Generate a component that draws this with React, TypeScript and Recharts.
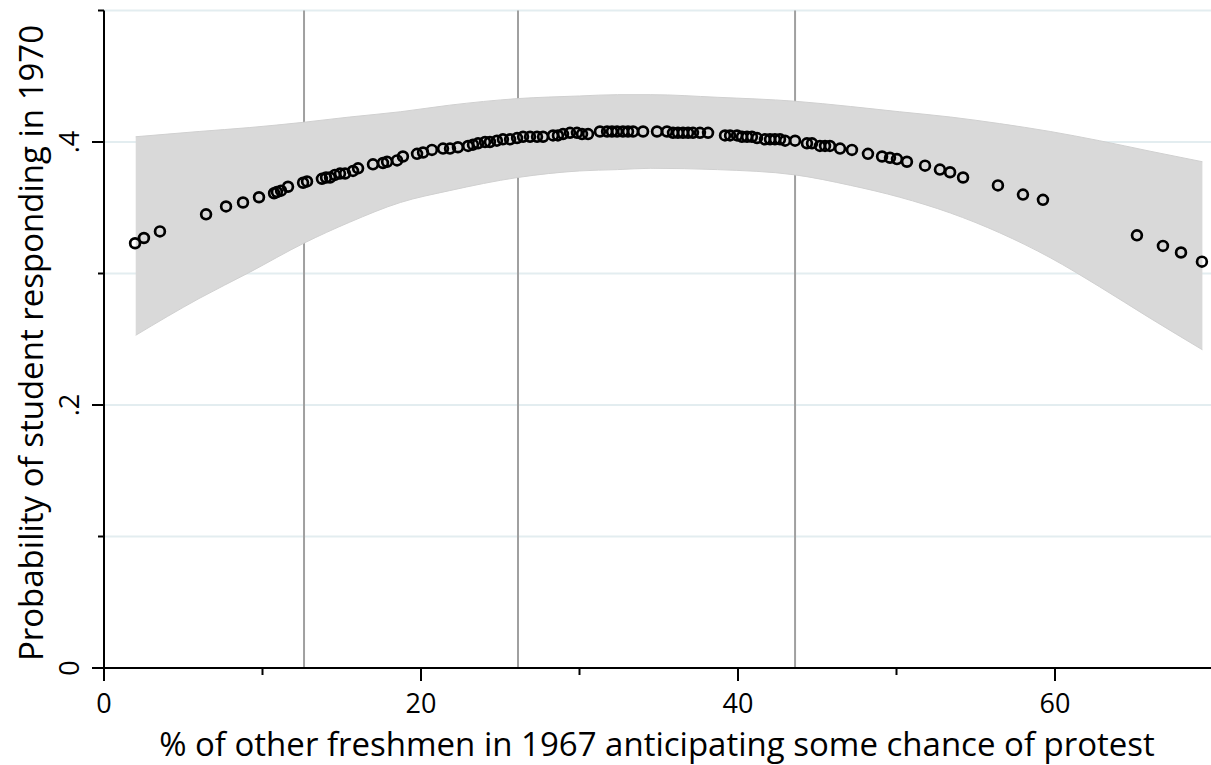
import React from 'react';
import { ComposedChart, Area, Scatter, XAxis, YAxis, CartesianGrid } from 'recharts';

// Confidence band
const bandX = [2.0, 6.0, 9.2, 12.6, 15.5, 18.7, 21.8, 26.1, 30.0, 32.4, 34.5, 38.7, 43.6, 47.1, 50.2, 53.4, 56.5, 59.7, 62.8, 66.0, 69.3];
const bandUpper = [0.404, 0.408, 0.411, 0.415, 0.419, 0.423, 0.428, 0.433, 0.435, 0.436, 0.436, 0.434, 0.431, 0.427, 0.423, 0.419, 0.414, 0.408, 0.401, 0.393, 0.385];
const bandLower = [0.253, 0.281, 0.301, 0.323, 0.339, 0.354, 0.363, 0.373, 0.378, 0.379, 0.380, 0.379, 0.375, 0.367, 0.358, 0.346, 0.331, 0.312, 0.290, 0.266, 0.242];

// Predicted probabilities (scatter)
const pointX = [1.96, 2.52, 3.53, 6.44, 7.70, 8.77, 9.78, 10.73, 10.91, 11.17, 11.61, 12.56, 12.81, 13.75, 14.01, 14.26, 14.57, 14.89, 15.21, 15.71, 16.03, 16.97, 17.60, 17.86, 18.49, 18.86, 19.75, 20.13, 20.69, 21.39, 21.83, 22.33, 22.97, 23.28, 23.60, 24.04, 24.35, 24.79, 25.17, 25.62, 26.06, 26.44, 26.88, 27.32, 27.70, 28.33, 28.64, 28.96, 29.40, 29.84, 30.16, 30.54, 31.29, 31.74, 32.05, 32.37, 32.74, 33.06, 33.38, 34.01, 34.89, 35.52, 35.90, 36.21, 36.53, 36.85, 37.16, 37.60, 38.11, 39.18, 39.50, 39.94, 40.25, 40.57, 40.88, 41.20, 41.70, 42.02, 42.33, 42.65, 42.97, 43.60, 44.35, 44.67, 45.17, 45.49, 45.80, 46.44, 47.19, 48.20, 49.09, 49.59, 50.03, 50.66, 51.80, 52.74, 53.38, 54.20, 56.40, 57.98, 59.24, 65.17, 66.81, 67.95, 69.27];
const pointY = [0.323, 0.327, 0.332, 0.345, 0.351, 0.354, 0.358, 0.361, 0.362, 0.363, 0.366, 0.369, 0.370, 0.372, 0.373, 0.373, 0.375, 0.376, 0.376, 0.378, 0.380, 0.383, 0.384, 0.385, 0.386, 0.389, 0.391, 0.392, 0.394, 0.395, 0.395, 0.396, 0.397, 0.398, 0.399, 0.400, 0.400, 0.401, 0.402, 0.402, 0.403, 0.404, 0.404, 0.404, 0.404, 0.405, 0.405, 0.406, 0.407, 0.407, 0.406, 0.406, 0.408, 0.408, 0.408, 0.408, 0.408, 0.408, 0.408, 0.408, 0.408, 0.408, 0.407, 0.407, 0.407, 0.407, 0.407, 0.407, 0.407, 0.405, 0.405, 0.405, 0.404, 0.404, 0.404, 0.403, 0.402, 0.402, 0.402, 0.402, 0.401, 0.401, 0.399, 0.399, 0.397, 0.397, 0.397, 0.395, 0.394, 0.391, 0.389, 0.388, 0.387, 0.385, 0.382, 0.379, 0.377, 0.373, 0.367, 0.360, 0.356, 0.329, 0.321, 0.316, 0.309];

// Vertical reference lines
const refLines = [12.62, 26.12, 43.6];

// Axis ticks
const xTicks = [0, 10, 20, 30, 40, 50, 60, 70];
const xLabeled = [0, 20, 40, 60];
const yTicks = [0, 0.1, 0.2, 0.3, 0.4, 0.5];
const yLabeled = [0, 0.2, 0.4];
const yLabelText = ['0', '.2', '.4'];

const FONT = '"Open Sans", sans-serif';

const bandData = bandX.map((x, i) => ({ x, lo: bandLower[i], hi: bandUpper[i] }));
const pointData = pointX.map((x, i) => ({ x, y: pointY[i] }));

const near = (a: number, b: number) => Math.abs(a - b) < 1e-6;

const YTick = (props: any) => {
  const { x, y, payload } = props;
  const v = payload.value;
  const idx = yLabeled.findIndex((t) => near(t, v));
  const major = idx >= 0;
  const tx = x - 25;
  return (
    <g>
      <line x1={x} x2={x - (major ? 12 : 6)} y1={y} y2={y} stroke="#000" strokeWidth={2} />
      {major && (
        <text x={tx} y={y} transform={`rotate(-90 ${tx} ${y})`} textAnchor="middle" fontSize={27} fontFamily={FONT} fill="#000">
          {yLabelText[idx]}
        </text>
      )}
    </g>
  );
};

const XTick = (props: any) => {
  const { x, y, payload } = props;
  const v = payload.value;
  const major = xLabeled.some((t) => near(t, v));
  return (
    <g>
      <line x1={x} x2={x} y1={y} y2={y + (major ? 13 : 7)} stroke="#000" strokeWidth={2} />
      {major && (
        <text x={x} y={y + 45} textAnchor="middle" fontSize={27} fontFamily={FONT} fill="#000">
          {String(v)}
        </text>
      )}
    </g>
  );
};

const PointShape = (props: any) => {
  const { cx, cy } = props;
  if (cx == null || cy == null) return null;
  return <circle cx={cx} cy={cy} r={4.9} fill="none" stroke="#000" strokeWidth={2.7} />;
};

const refCoords = (p: any) => {
  const xa = p && p.xAxis;
  if (xa && typeof xa.scale === 'function') return refLines.map((v) => xa.scale(v));
  const off = p.offset;
  return refLines.map((v) => off.left + (v / 70) * off.width);
};

export default function App() {
  return (
    <div style={{ position: 'absolute', left: 0, top: 0, width: 1211, height: 765, overflow: 'hidden', background: '#fff' }}>
      <ComposedChart
        width={1216}
        height={765}
        data={bandData}
        margin={{ top: 10.5, right: 2.5, bottom: 0, left: 0 }}
      >
        <CartesianGrid vertical={false} stroke="#e3edf0" strokeWidth={2} />
        <CartesianGrid horizontal={false} stroke="#a0a0a0" strokeWidth={2} verticalCoordinatesGenerator={refCoords} />
        <XAxis
          type="number"
          dataKey="x"
          domain={[0, 70]}
          ticks={xTicks}
          allowDataOverflow
          height={97}
          tickSize={0}
          tickMargin={0}
          tickLine={false}
          axisLine={{ stroke: '#000', strokeWidth: 2 }}
          tick={<XTick />}
          interval={0}
          label={{
            content: () => (
              <text x={657} y={756} textAnchor="middle" fontSize={33} fontFamily={FONT} fill="#000">
                % of other freshmen in 1967 anticipating some chance of protest
              </text>
            ),
          }}
        />
        <YAxis
          type="number"
          domain={[0, 0.5]}
          ticks={yTicks}
          allowDataOverflow
          width={104}
          tickSize={0}
          tickMargin={0}
          tickLine={false}
          axisLine={{ stroke: '#000', strokeWidth: 2 }}
          tick={<YTick />}
          interval={0}
          label={{
            content: () => (
              <text x={43} y={343} transform="rotate(-90 43 343)" textAnchor="middle" fontSize={33} fontFamily={FONT} fill="#000">
                Probability of student responding in 1970
              </text>
            ),
          }}
        />
        <Area
          type="monotone"
          dataKey={(d: any) => [d.lo, d.hi]}
          fill="#d9d9d9"
          fillOpacity={1}
          stroke="#d0d0d0"
          strokeWidth={1}
          isAnimationActive={false}
          activeDot={false}
          dot={false}
        />
        <Scatter data={pointData} dataKey="y" shape={<PointShape />} isAnimationActive={false} />
      </ComposedChart>
    </div>
  );
}
